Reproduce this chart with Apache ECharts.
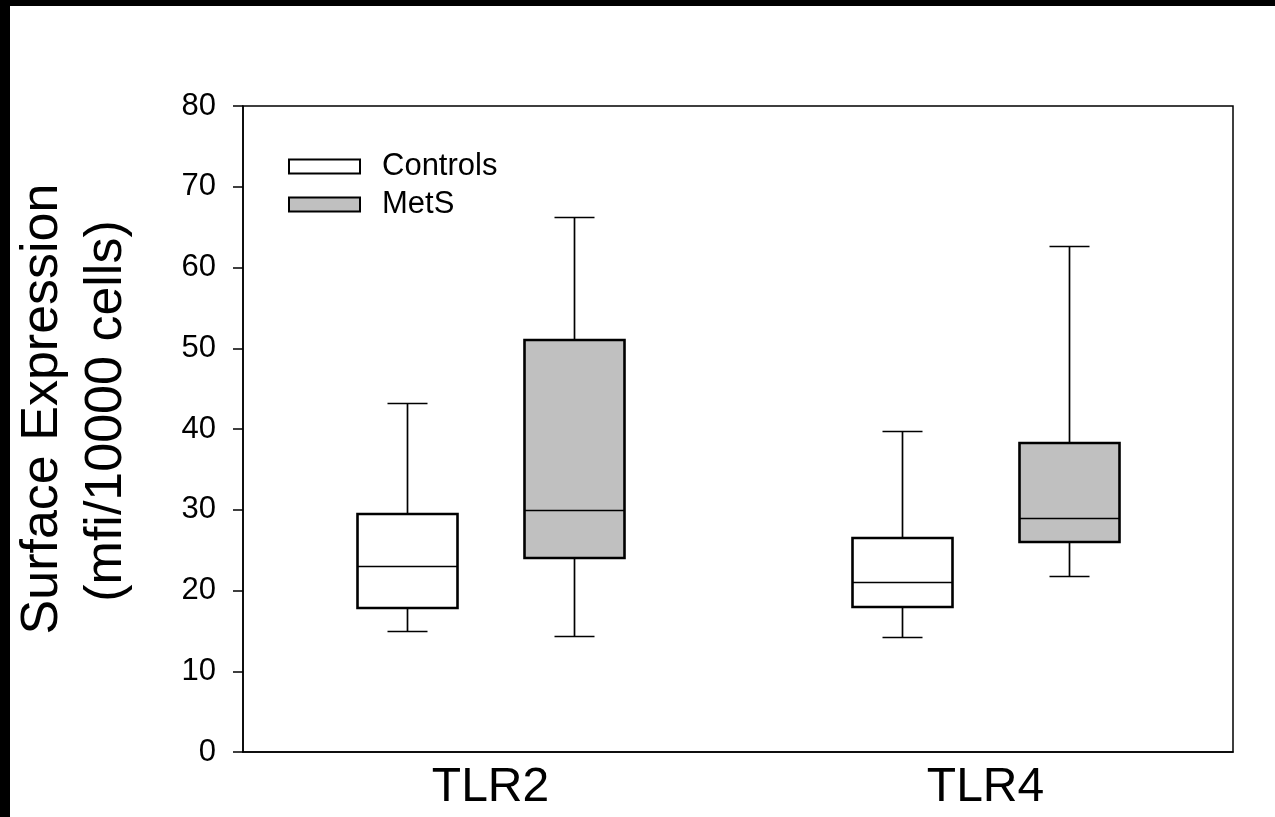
<!DOCTYPE html>
<html>
<head>
<meta charset="utf-8">
<script src="https://cdn.jsdelivr.net/npm/echarts@6/dist/echarts.min.js"></script>
<style>
html,body{margin:0;padding:0;background:#000;width:1275px;height:817px;overflow:hidden;}
#chart{position:absolute;left:10px;top:6px;width:1265px;height:811px;background:#fff;}
</style>
</head>
<body>
<div id="chart"></div>
<script>
// ---- data ----
var categories = ['TLR2', 'TLR4'];
// [min, Q1, median, Q3, max]
var controls = [
  [15.0, 17.8, 23.0, 29.5, 43.2],
  [14.2, 18.0, 21.0, 26.5, 39.8]
];
var mets = [
  [14.4, 24.0, 30.0, 51.0, 66.2],
  [21.8, 26.0, 29.0, 38.3, 62.7]
];
var seriesNames = ['Controls', 'MetS'];
var yTicks = {min: 0, max: 80, interval: 10};

var FONT = '"Liberation Sans", Arial, Helvetica, sans-serif';
var colors = ['#ffffff', '#c0c0c0'];

function makeRender(offsetFrac, fill) {
  return function (params, api) {
    var c = api.value(0);
    var band = api.size([1, 0])[0];
    var base = api.coord([c, 0]);
    var cx = Math.round(base[0] + offsetFrac * band) + 0.5;
    function y(k) { return Math.round(api.coord([c, api.value(k)])[1]); }
    var yMin = y(1), yQ1 = y(2), yMed = y(3), yQ3 = y(4), yMax = y(5);
    var half = Math.round(0.1 * band);
    var capHalf = Math.round(0.04 * band);
    var lineStyle = {stroke: '#000', lineWidth: 1.7};
    return {
      type: 'group',
      children: [
        {type: 'line', shape: {x1: cx, y1: yQ3, x2: cx, y2: yMax}, style: lineStyle},
        {type: 'line', shape: {x1: cx, y1: yMin, x2: cx, y2: yQ1}, style: lineStyle},
        {type: 'line', shape: {x1: cx - capHalf, y1: yMax + 0.5, x2: cx + capHalf, y2: yMax + 0.5}, style: lineStyle},
        {type: 'line', shape: {x1: cx - capHalf, y1: yMin + 0.5, x2: cx + capHalf, y2: yMin + 0.5}, style: lineStyle},
        {type: 'rect', shape: {x: cx - half, y: yQ3, width: 2 * half, height: yQ1 - yQ3},
          style: {fill: fill, stroke: '#000', lineWidth: 2.6}},
        {type: 'line', shape: {x1: cx - half, y1: yMed + 0.5, x2: cx + half, y2: yMed + 0.5}, style: lineStyle}
      ]
    };
  };
}

function toData(arr) {
  return arr.map(function (d, i) { return [i].concat(d); });
}

var chart = echarts.init(document.getElementById('chart'), null, {renderer: 'canvas'});
var option = {
  backgroundColor: '#fff',
  animation: false,
  grid: {left: 233, right: 42, top: 100, bottom: 65, show: true, borderColor: '#000', borderWidth: 1.5, backgroundColor: 'transparent'},
  legend: {
    orient: 'vertical',
    left: 273, top: 140,
    itemWidth: 71, itemHeight: 14, itemGap: 7,
    icon: 'rect',
    textStyle: {fontFamily: FONT, fontSize: 31, color: '#000', padding: [0, 0, 0, 17]},
    data: [
      {name: seriesNames[0], itemStyle: {color: colors[0], borderColor: '#000', borderWidth: 2}},
      {name: seriesNames[1], itemStyle: {color: colors[1], borderColor: '#000', borderWidth: 2}}
    ]
  },
  xAxis: {
    type: 'category',
    data: categories,
    boundaryGap: true,
    axisLine: {show: true, lineStyle: {color: '#000', width: 1.5}},
    axisTick: {show: false},
    axisLabel: {fontFamily: FONT, fontSize: 48, color: '#000', margin: 12},
    splitLine: {show: false}
  },
  yAxis: {
    type: 'value',
    min: yTicks.min, max: yTicks.max, interval: yTicks.interval,
    axisLine: {show: true, lineStyle: {color: '#000', width: 1.5}},
    axisTick: {show: true, length: 10, lineStyle: {color: '#000', width: 1.5}},
    axisLabel: {fontFamily: FONT, fontSize: 31, color: '#000', margin: 27},
    splitLine: {show: false}
  },
  graphic: [
    {type: 'text', x: 33, y: 403, rotation: Math.PI / 2,
      style: {text: 'Surface Expression', font: '52px ' + FONT, fill: '#000', align: 'center', verticalAlign: 'middle'}},
    {type: 'text', x: 97, y: 405, rotation: Math.PI / 2,
      style: {text: '(mfi/10000 cells)', font: '52px ' + FONT, fill: '#000', align: 'center', verticalAlign: 'middle'}}
  ],
  series: [
    {name: seriesNames[0], type: 'custom', renderItem: makeRender(-0.168, colors[0]),
      itemStyle: {color: colors[0], borderColor: '#000'},
      encode: {x: 0, y: [1, 2, 3, 4, 5]}, data: toData(controls)},
    {name: seriesNames[1], type: 'custom', renderItem: makeRender(0.168, colors[1]),
      itemStyle: {color: colors[1], borderColor: '#000'},
      encode: {x: 0, y: [1, 2, 3, 4, 5]}, data: toData(mets)}
  ]
};
chart.setOption(option);
</script>
</body>
</html>
